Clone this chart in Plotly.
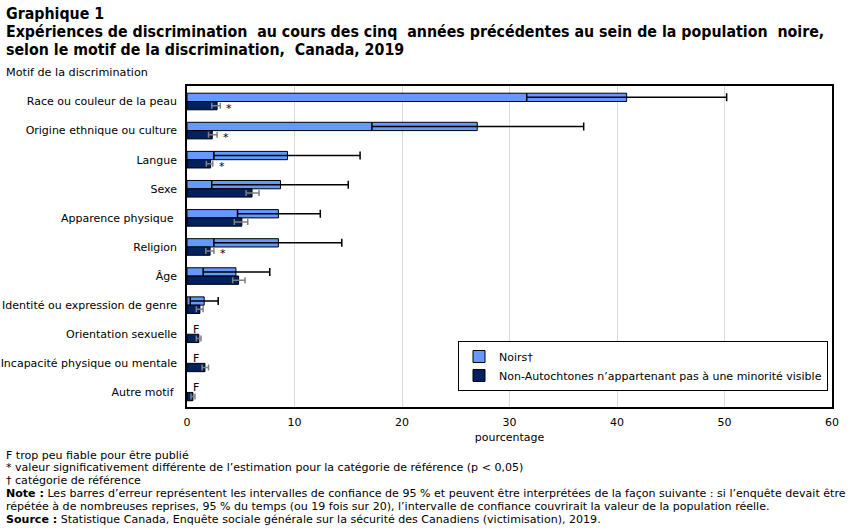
import plotly.graph_objects as go

categories = ["Race ou couleur de la peau", "Origine ethnique ou culture", "Langue", "Sexe",
              "Apparence physique ", "Religion", "Âge", "Identité ou expression de genre",
              "Orientation sexuelle", "Incapacité physique ou mentale", "Autre motif "]

noirs_val = [40.9, 27.0, 9.35, 8.7, 8.5, 8.5, 4.55, 1.6, None, None, None]
noirs_low = [31.6, 17.2, 2.5, 2.3, 4.7, 2.5, 1.5, 0.3, None, None, None]
noirs_high = [50.2, 36.9, 16.1, 15.0, 12.4, 14.4, 7.7, 2.9, None, None, None]

nonaut_val = [2.8, 2.35, 2.2, 6.05, 5.1, 2.15, 4.8, 1.2, 1.1, 1.67, 0.55]
nonaut_low = [2.3, 2.0, 1.8, 5.5, 4.4, 1.75, 4.25, 0.87, 0.87, 1.4, 0.37]
nonaut_high = [3.1, 2.8, 2.4, 6.7, 5.65, 2.5, 5.4, 1.5, 1.3, 2.0, 0.74]

signif = [True, True, True, False, False, True, False, False, False, False, False]
unreliable = [v is None for v in noirs_val]

x_ticks = [0, 10, 20, 30, 40, 50, 60]

def plus(v, h):
    return None if v is None else h - v

def minus(v, l):
    return None if v is None else v - l

L, R, T, B = 187, 832, 86, 407
W, H = 851, 531

def px(x):
    return (x - L) / (R - L)

def py(y):
    return (B - y) / (B - T)

tick_font = dict(family="DejaVu Sans, Verdana, sans-serif", size=11, color="#000000")
narrow = "DejaVu Sans Condensed, Liberation Sans, sans-serif"
wide = "DejaVu Sans, Verdana, sans-serif"

fig = go.Figure()
fig.add_trace(go.Bar(
    name="Noirs†", y=categories, x=noirs_val, orientation="h",
    marker=dict(color="#6699FF", line=dict(color="#000000", width=1)),
    error_x=dict(type="data", symmetric=False,
                 array=[plus(v, h) for v, h in zip(noirs_val, noirs_high)],
                 arrayminus=[minus(v, l) for v, l in zip(noirs_val, noirs_low)],
                 color="#000000", thickness=1.5, width=4),
))
fig.add_trace(go.Bar(
    name="Non-Autochtones n’appartenant pas à une minorité visible", y=categories, x=nonaut_val,
    orientation="h",
    marker=dict(color="#002060", line=dict(color="#000000", width=1)),
    error_x=dict(type="data", symmetric=False,
                 array=[plus(v, h) for v, h in zip(nonaut_val, nonaut_high)],
                 arrayminus=[minus(v, l) for v, l in zip(nonaut_val, nonaut_low)],
                 color="#808080", thickness=1.5, width=3),
))

annotations = []
for cat, s, h in zip(categories, signif, nonaut_high):
    if s:
        annotations.append(dict(x=h, y=cat, xref="x", yref="y", text="*", showarrow=False,
                                xanchor="left", xshift=4, yshift=-7,
                                font=dict(family="DejaVu Sans", size=11, color="#000000")))
for cat, u in zip(categories, unreliable):
    if u:
        annotations.append(dict(x=0.8, y=cat, xref="x", yref="y", text="F", showarrow=False,
                                xanchor="center", yshift=5,
                                font=dict(family="DejaVu Sans", size=11, color="#000000")))

def text(x, y, s, size=11, family=wide):
    annotations.append(dict(x=px(x), y=py(y), xref="paper", yref="paper", text=s,
                            showarrow=False, xanchor="left", yanchor="middle", align="left",
                            xshift=-1, borderpad=0,
                            font=dict(family=family, size=size, color="#000000")))

text(6, 13, "<b>Graphique 1</b>", size=15.8, family=narrow)
text(6, 31, "<b>Expériences de discrimination  au cours des cinq  années précédentes au sein de la population  noire,</b>", size=15.8, family=narrow)
text(6, 49, "<b>selon le motif de la discrimination,  Canada, 2019</b>", size=15.8, family=narrow)
text(6, 72, "Motif de la discrimination", size=11.2)
fs = 11.05
text(6, 455, "F trop peu fiable pour être publié", size=fs)
text(6, 467, "* valeur significativement différente de l’estimation pour la catégorie de référence (p < 0,05)", size=fs)
text(6, 480, "† catégorie de référence", size=fs)
text(6, 493, "<b>Note :</b> Les barres d’erreur représentent les intervalles de confiance de 95 % et peuvent être interprétées de la façon suivante : si l’enquête devait être", size=fs)
text(6, 506, "répétée à de nombreuses reprises, 95 % du temps (ou 19 fois sur 20), l’intervalle de confiance couvrirait la valeur de la population réelle.", size=fs)
text(6, 519, "<b>Source :</b> Statistique Canada, Enquête sociale générale sur la sécurité des Canadiens (victimisation), 2019.", size=fs)

fig.update_layout(
    width=W, height=H,
    margin=dict(l=L, r=W - R, t=T, b=H - B, autoexpand=False),
    paper_bgcolor="#FFFFFF", plot_bgcolor="#FFFFFF",
    barmode="group", bargap=0.43, bargroupgap=0,
    showlegend=True,
    legend=dict(x=px(828), y=py(391), xanchor="right", yanchor="bottom",
                bgcolor="#FFFFFF", bordercolor="#000000", borderwidth=1,
                font=dict(family="DejaVu Sans, Verdana, sans-serif", size=11, color="#000000"),
                tracegroupgap=2, itemwidth=30),
    xaxis=dict(range=[0, 60], tickvals=x_ticks, ticktext=[str(t) for t in x_ticks],
               showgrid=True, gridcolor="#D9D9D9", gridwidth=1, automargin=False,
               showline=True, linecolor="#000000", linewidth=1.5, mirror=True,
               zeroline=False, ticks="", tickfont=tick_font, ticklabelstandoff=4,
               title=dict(text="pourcentage", font=tick_font, standoff=5)),
    yaxis=dict(autorange="reversed", showline=True, linecolor="#000000", linewidth=1.5,
               mirror=True, ticks="", tickfont=tick_font, ticklabelstandoff=6,
               automargin=False),
    annotations=annotations,
    font=dict(family="DejaVu Sans", color="#000000"),
)

fig.write_html("out.html")
